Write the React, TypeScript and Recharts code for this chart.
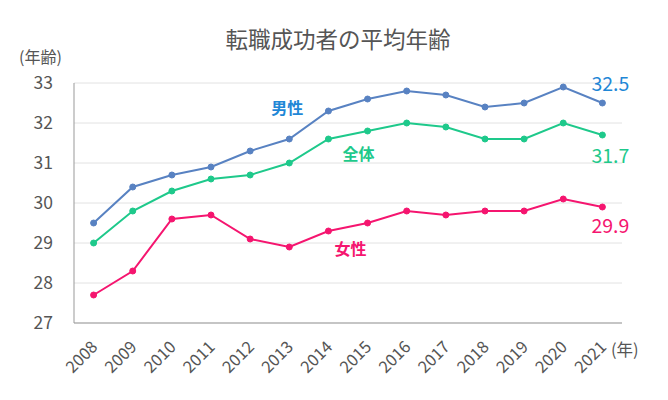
import { LineChart, Line, XAxis, YAxis, CartesianGrid, LabelList } from 'recharts';

const years = ['2008', '2009', '2010', '2011', '2012', '2013', '2014', '2015', '2016', '2017', '2018', '2019', '2020', '2021'];
const male = [29.5, 30.4, 30.7, 30.9, 31.3, 31.6, 32.3, 32.6, 32.8, 32.7, 32.4, 32.5, 32.9, 32.5];
const total = [29.0, 29.8, 30.3, 30.6, 30.7, 31.0, 31.6, 31.8, 32.0, 31.9, 31.6, 31.6, 32.0, 31.7];
const female = [27.7, 28.3, 29.6, 29.7, 29.1, 28.9, 29.3, 29.5, 29.8, 29.7, 29.8, 29.8, 30.1, 29.9];
const yTicks = [27, 28, 29, 30, 31, 32, 33];

const data = years.map((year, i) => ({ year, male: male[i], total: total[i], female: female[i] }));

const FONT = "'Noto Sans CJK JP', 'Noto Sans', sans-serif";
const MALE_LINE = '#5882c2';
const MALE_TEXT = '#1f87d6';
const TOTAL = '#1ec98b';
const FEMALE = '#f5156f';
const TEXT = '#555555';

function YearTick(props: any) {
  const { x, y, payload } = props;
  return (
    <g transform={`translate(${x + 5},${y + 17})`}>
      <text x={0} y={0} textAnchor="end" transform="rotate(-45)" fill={TEXT} fontSize={16.5} fontFamily={FONT}>
        {payload.value}
      </text>
    </g>
  );
}

// draws one text near a chosen point of a series
function pointLabel(index: number, text: string | null, color: string, dx: number, dy: number, size: number) {
  return (props: any) => {
    if (props.index !== index) return null;
    const label = text ?? Number(props.value).toFixed(1);
    return (
      <text x={props.x + dx} y={props.y + dy} textAnchor="middle" dominantBaseline="central"
        fill={color} fontSize={size} fontFamily={FONT} fontWeight={text ? 700 : 400}>
        {label}
      </text>
    );
  };
}

export default function App() {
  return (
    <div style={{ position: 'absolute', left: 0, top: 0, width: 668, height: 400, background: '#fff', fontFamily: FONT }}>
      <div style={{ position: 'absolute', left: 0, width: 676, top: 24, textAlign: 'center', fontSize: 22.5, color: TEXT, lineHeight: '28px' }}>
        転職成功者の平均年齢
      </div>
      <div style={{ position: 'absolute', left: 19, top: 46, fontSize: 16, color: TEXT, lineHeight: '20px' }}>(年齢)</div>
      <div style={{ position: 'absolute', left: 611, top: 339, fontSize: 16.5, color: TEXT, lineHeight: '20px' }}>(年)</div>
      <LineChart width={668} height={400} data={data} margin={{ top: 83, right: 46, left: 0, bottom: 0 }}>
        <CartesianGrid horizontal vertical={false} stroke="#e2e2e2" />
        <XAxis
          dataKey="year"
          height={77}
          padding={{ left: 19.6, right: 19.6 }}
          tickLine={false}
          axisLine={{ stroke: '#999' }}
          tick={<YearTick />}
          interval={0}
        />
        <YAxis
          width={74}
          domain={[27, 33]}
          ticks={yTicks}
          tickLine={false}
          tickMargin={15}
          axisLine={{ stroke: '#999' }}
          tick={{ fill: TEXT, fontSize: 17.5, fontFamily: FONT }}
        />
        <Line dataKey="male" stroke={MALE_LINE} strokeWidth={2} dot={{ r: 3, fill: MALE_LINE, stroke: MALE_LINE, strokeWidth: 1 }} isAnimationActive={false}>
          <LabelList dataKey="male" content={pointLabel(5, '男性', MALE_TEXT, -2, -32, 16)} />
          <LabelList dataKey="male" content={pointLabel(13, null, MALE_TEXT, 8, -21, 19.5)} />
        </Line>
        <Line dataKey="total" stroke={TOTAL} strokeWidth={2} dot={{ r: 3, fill: TOTAL, stroke: TOTAL, strokeWidth: 1 }} isAnimationActive={false}>
          <LabelList dataKey="total" content={pointLabel(6, '全体', TOTAL, 30, 14, 16)} />
          <LabelList dataKey="total" content={pointLabel(13, null, TOTAL, 8, 19, 19.5)} />
        </Line>
        <Line dataKey="female" stroke={FEMALE} strokeWidth={2} dot={{ r: 3, fill: FEMALE, stroke: FEMALE, strokeWidth: 1 }} isAnimationActive={false}>
          <LabelList dataKey="female" content={pointLabel(6, '女性', FEMALE, 22, 17, 16)} />
          <LabelList dataKey="female" content={pointLabel(13, null, FEMALE, 8, 17, 19.5)} />
        </Line>
      </LineChart>
    </div>
  );
}
